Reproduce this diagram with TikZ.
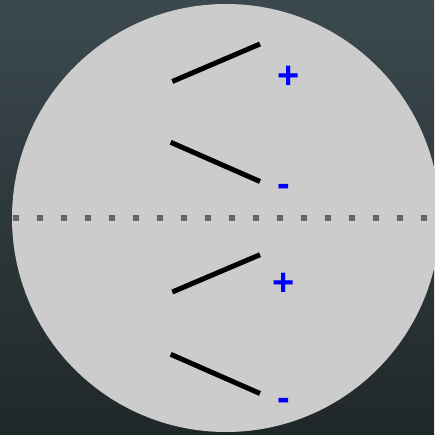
\documentclass[tikz,border=0pt]{standalone}
\usepackage{fontspec}
\setmainfont{Liberation Sans}
\begin{document}
\begin{tikzpicture}[x=1pt,y=-1pt,
  stick/.style={line width=5pt,black},
  sign/.style={text=blue,font=\fontsize{38}{40}\selectfont\bfseries,inner sep=0pt,anchor=base},
  axisline/.style={draw=black!60,line width=6pt,dash pattern=on 6pt off 18pt}]
\shade[top color={rgb,255:red,59;green,73;blue,78},bottom color={rgb,255:red,32;green,39;blue,41}] (0,0) rectangle (434,435);
\useasboundingbox (0,0) rectangle (434,435);
\fill[black!20] (226,218) circle[radius=214];
\coordinate (a1) at (172.3,81.5); \coordinate (a2) at (260,44);
\coordinate (b1) at (170.7,142.3); \coordinate (b2) at (260,181.5);
\coordinate (c1) at (172.3,292); \coordinate (c2) at (260,254.7);
\coordinate (d1) at (170.7,354.3); \coordinate (d2) at (260,393.5);
\coordinate (l1) at (12.7,218); \coordinate (l2) at (440,218);
\draw[axisline] (l1) -- (l2);
\draw[stick] (a1) -- (a2);
\draw[stick] (b1) -- (b2);
\draw[stick] (c1) -- (c2);
\draw[stick] (d1) -- (d2);
\node[sign] (p1) at (288.3,88.5) {+};
\node[sign] (m1) at (284.3,196.2) {-};
\node[sign] (p2) at (283.3,295.2) {+};
\node[sign] (m2) at (284.3,410.5) {-};
\end{tikzpicture}
\end{document}
